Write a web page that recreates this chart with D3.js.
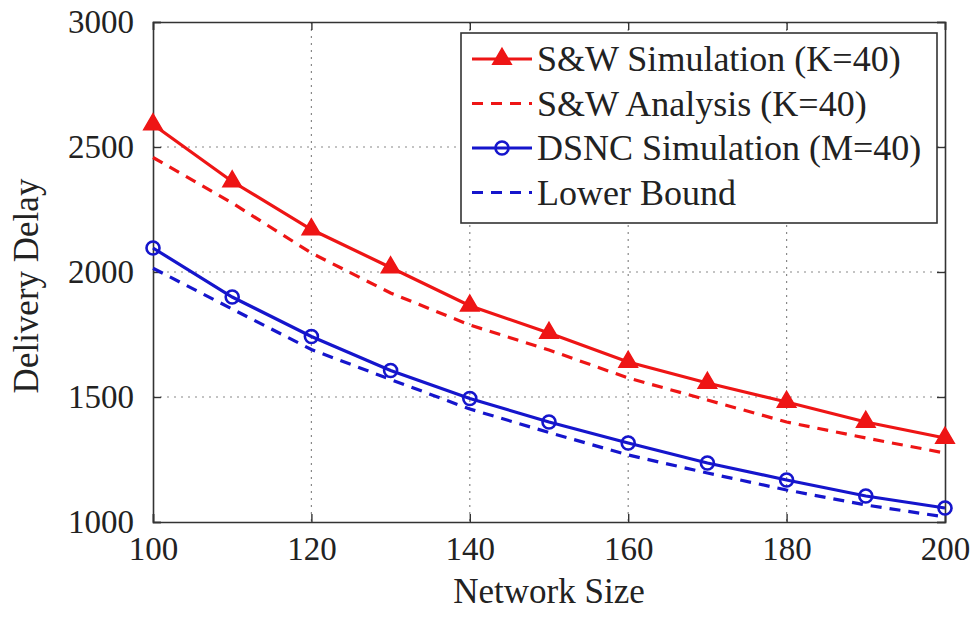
<!DOCTYPE html>
<html>
<head>
<meta charset="utf-8">
<script src="https://cdn.jsdelivr.net/npm/d3@7"></script>
<style>
  html, body { margin: 0; padding: 0; background: #fff; }
  svg { display: block; }
  text { font-family: "Liberation Serif", "Times New Roman", serif; fill: #222; }
</style>
</head>
<body>
<svg id="chart" width="979" height="617"></svg>
<script>
// Network sizes on the x axis
const networkSize = [100, 110, 120, 130, 140, 150, 160, 170, 180, 190, 200];

// Delivery delay per series
const swSimulation = [2590, 2362, 2170, 2018, 1865, 1756, 1640, 1556, 1480, 1400, 1336];
const swAnalysis   = [2458, 2276, 2076, 1916, 1788, 1688, 1576, 1488, 1400, 1336, 1276];
const dsncSimulation = [2096, 1900, 1742, 1606, 1494, 1400, 1316, 1236, 1168, 1104, 1056];
const lowerBound   = [2015, 1852, 1690, 1570, 1452, 1358, 1268, 1196, 1128, 1068, 1020];

// Axis ticks
const xTicks = [100, 120, 140, 160, 180, 200];
const yTicks = [1000, 1500, 2000, 2500, 3000];

// Legend entries
const seriesNames = ["S&W Simulation (K=40)", "S&W Analysis (K=40)", "DSNC Simulation (M=40)", "Lower Bound"];

const RED = "#ee1515";
const BLUE = "#1515cc";

const series = [
  { name: seriesNames[0], values: swSimulation, color: RED, dash: null, marker: "triangle" },
  { name: seriesNames[1], values: swAnalysis, color: RED, dash: "11,8", marker: null },
  { name: seriesNames[2], values: dsncSimulation, color: BLUE, dash: null, marker: "circle" },
  { name: seriesNames[3], values: lowerBound, color: BLUE, dash: "11,8", marker: null }
];

const svg = d3.select("#chart");
const L = 153, R = 945, T = 22, B = 522;

const x = d3.scaleLinear().domain([100, 200]).range([L, R]);
const y = d3.scaleLinear().domain([1000, 3000]).range([B, T]);

// Dotted grid
const grid = svg.append("g");
grid.selectAll("line.gx").data(xTicks.slice(1, -1)).join("line")
  .attr("x1", d => x(d)).attr("x2", d => x(d))
  .attr("y1", T).attr("y2", B)
  .attr("stroke", "#888").attr("stroke-width", 1.2).attr("stroke-dasharray", "2,5");
grid.selectAll("line.gy").data(yTicks.slice(1, -1)).join("line")
  .attr("x1", L).attr("x2", R)
  .attr("y1", d => y(d)).attr("y2", d => y(d))
  .attr("stroke", "#888").attr("stroke-width", 1.2).attr("stroke-dasharray", "2,5");

// Axes with inward ticks on all four sides
const axisColor = "#333";
const bottomAxis = svg.append("g").attr("transform", `translate(0,${B})`)
  .call(d3.axisBottom(x).tickValues(xTicks).tickSize(-8).tickPadding(20).tickFormat(d3.format("d")));
const topAxis = svg.append("g").attr("transform", `translate(0,${T})`)
  .call(d3.axisTop(x).tickValues(xTicks).tickSize(-8).tickFormat(""));
const leftAxis = svg.append("g").attr("transform", `translate(${L},0)`)
  .call(d3.axisLeft(y).tickValues(yTicks).tickSize(-8).tickPadding(20).tickFormat(d3.format("d")));
const rightAxis = svg.append("g").attr("transform", `translate(${R},0)`)
  .call(d3.axisRight(y).tickValues(yTicks).tickSize(-8).tickFormat(""));

[bottomAxis, topAxis, leftAxis, rightAxis].forEach(g => {
  g.select(".domain").attr("stroke", axisColor).attr("stroke-width", 1.6);
  g.selectAll(".tick line").attr("stroke", axisColor).attr("stroke-width", 1.4);
  g.selectAll(".tick text").style("font-family", "'Liberation Serif', serif")
    .style("font-size", "33px").attr("fill", "#222");
});
bottomAxis.selectAll(".tick text").attr("dy", "0.71em").attr("y", 15);
leftAxis.selectAll(".tick text").attr("x", -19);

// Series lines
const line = d3.line().x((d, i) => x(networkSize[i])).y(d => y(d));
series.forEach(s => {
  svg.append("path").datum(s.values)
    .attr("d", line)
    .attr("fill", "none")
    .attr("stroke", s.color)
    .attr("stroke-width", 3.2)
    .attr("stroke-dasharray", s.dash);
});

const triangle = d3.symbol().type(d3.symbolTriangle).size(150);
function drawMarker(g, kind, color, cx, cy) {
  if (kind === "triangle") {
    g.append("path").attr("d", triangle())
      .attr("transform", `translate(${cx},${cy})`)
      .attr("fill", color).attr("stroke", color).attr("stroke-width", 1.5);
  } else if (kind === "circle") {
    g.append("circle").attr("cx", cx).attr("cy", cy).attr("r", 6.5)
      .attr("fill", "none").attr("stroke", color).attr("stroke-width", 2.6);
  }
}

const markers = svg.append("g");
series.filter(s => s.marker).forEach(s => {
  s.values.forEach((v, i) => drawMarker(markers, s.marker, s.color, x(networkSize[i]), y(v)));
});

// Legend
const lg = svg.append("g");
lg.append("rect").attr("x", 461).attr("y", 33).attr("width", 476).attr("height", 190)
  .attr("fill", "#fff").attr("stroke", "#333").attr("stroke-width", 1.6);
series.forEach((s, i) => {
  const ly = 59 + i * 44.5;
  lg.append("line").attr("x1", 472).attr("x2", 532).attr("y1", ly).attr("y2", ly)
    .attr("stroke", s.color).attr("stroke-width", 3.2).attr("stroke-dasharray", s.dash);
  if (s.marker) drawMarker(lg, s.marker, s.color, 502, ly);
  lg.append("text").attr("x", 537).attr("y", ly + 12)
    .style("font-size", "36px").text(s.name);
});

// Axis titles
svg.append("text").attr("x", 549).attr("y", 603).attr("text-anchor", "middle")
  .style("font-size", "35px").text("Network Size");
svg.append("text").attr("transform", "translate(38,286) rotate(-90)")
  .attr("text-anchor", "middle").style("font-size", "35px").text("Delivery Delay");
</script>
</body>
</html>
